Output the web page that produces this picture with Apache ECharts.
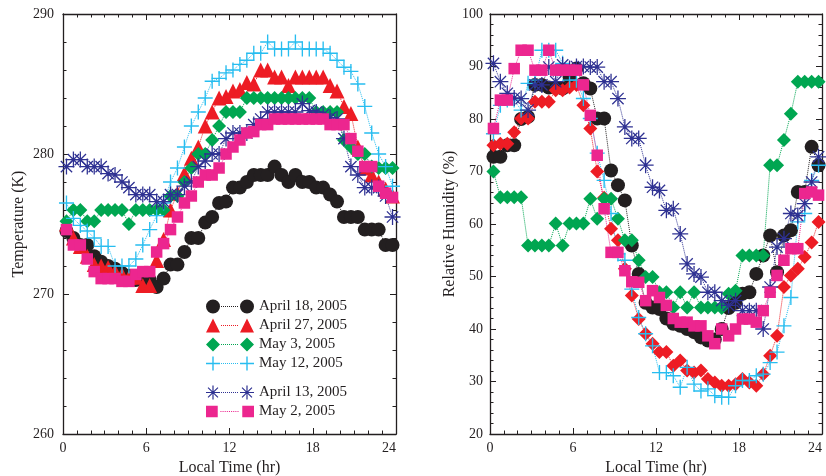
<!DOCTYPE html>
<html><head><meta charset="utf-8">
<script src="https://cdn.jsdelivr.net/npm/echarts@6/dist/echarts.min.js"></script>
<style>html,body{margin:0;padding:0;background:#fff}#c{width:826px;height:476px}</style>
</head><body><div id="c"></div>
<script>
// ---- data ----
const hours = [0.25,0.75,1.25,1.75,2.25,2.75,3.25,3.75,4.25,4.75,5.25,5.75,6.25,6.75,7.25,7.75,8.25,8.75,9.25,9.75,10.25,10.75,11.25,11.75,12.25,12.75,13.25,13.75,14.25,14.75,15.25,15.75,16.25,16.75,17.25,17.75,18.25,18.75,19.25,19.75,20.25,20.75,21.25,21.75,22.25,22.75,23.25,23.75];
const seriesNames = ['April 18, 2005','April 27, 2005','May 3, 2005','May 12, 2005','April 13, 2005','May 2, 2005'];
const xTickValues = [0,6,12,18,24];
const tempTicks = [260,270,280,290];
const rhTicks = [20,30,40,50,60,70,80,90,100];

const tApr18 = [274.5,274,273.5,273.5,272.7,272.3,272,271.8,271.5,271.3,271,271,271,270.5,271.1,272.1,272.1,273,274,274,275.1,275.5,276.5,276.6,277.6,277.6,278,278.5,278.5,278.5,279.1,278.5,278,278.5,278,278,277.6,277.6,277.1,276.6,275.5,275.5,275.5,274.6,274.6,274.6,273.5,273.5];
const tApr27 = [275,274,273.4,272.7,272.1,272,271.9,271.6,271.4,271.2,271.2,270.6,270.6,272.4,273.9,276,277.2,278.6,279.7,280.5,282,283,284,284.1,284.5,284.6,285.1,285,286,286,285.5,285.5,284.9,285.5,285.5,285.5,285.5,285.5,284.9,284.5,283.4,282.9,280.5,279,278.5,278,277.5,277];
const tMay3 = [275.2,276,276,275.2,275.2,276,276,276,276,275,276,276,276,276,276,277,277,278,279,280,280,281,282,283,283,283,284,284,284,284,284,284,284,284,284,284,283,283,283,283,281,280.5,280,280,279.1,279,279,279];
const tMay12 = [276.5,275.4,274.9,274.5,274,273.4,273.4,272,272,272,272.5,273.5,274.6,275.6,276.5,278,279,280.5,282,283,284,285.2,285.4,285.8,286,286.4,286.7,287.2,287.2,288,287.5,287.5,287.5,288,287.5,287.5,287.5,287.5,287.2,286.7,286.2,285.9,285,283.4,281.5,280,279.1,277.7];
const tApr13 = [279.1,279.6,279.6,279.1,279.1,279.1,278.6,278.5,278,277.6,277.1,277.1,277.1,276.6,276.6,277.1,277.1,277.7,278,279.1,279.5,280,280,281.1,281.5,281.5,281.5,282.1,282.5,283,283,283,283,283,283.6,283.1,283,282.8,282.6,282.5,281.1,279.1,278.5,277.6,277.6,277.6,277,275.5];
const tMay2 = [274.6,273.5,273.5,272.5,271.6,271.1,271.1,271.1,270.9,270.9,271.4,271.6,271.6,273,273.6,274.6,275.5,276.5,277,278,278.5,278.5,279,280,280.5,281,281.5,281.6,282.1,282.1,282.5,282.5,282.5,282.5,282.5,282.5,282.5,282.5,282.1,282.1,282.1,281.1,280.2,279.1,279.1,277.7,277.2,276.9];

const rhApr18 = [72.8,72.8,75,75,80,80.4,86.5,86.5,86,86,85.8,88,89.6,86.8,85.8,80.1,80.1,70.2,67.4,64.5,55.9,50.5,45,44.1,43.8,42,41,40.6,40,39.4,38.4,37.8,38,40,44,45,46.7,47,50.5,54,57.8,50.8,57.8,58.8,66.1,66.1,74.7,71.2];
const rhApr27 = [75,75.3,75.3,77.5,80.1,80.1,83.3,83.3,83.3,85.5,85.5,86,86.5,82.6,78.2,70,65,59.1,56.9,51.5,46.4,41.9,39.1,37.2,35.6,35.6,33,34,32.1,31.7,32.1,30.5,29.8,29.2,29.2,29.5,30.5,29.8,29.2,31.4,34.9,38.7,48,50.2,51.5,53.7,56.5,60.4];
const rhMay3 = [70,65.1,65.1,65.1,65.1,55.9,55.9,55.9,55.9,60.1,55.9,60.1,60.1,60.1,64.8,61,64.8,64.8,61,56.9,56.9,53.1,49.9,49.9,47,47,44.1,47,44.1,47,44.1,44.1,44.1,44,46.7,47.3,54,54,54,54,71.2,71.2,76,81,87.1,87.1,87.1,87.1];
const rhMay12 = [77.2,82.6,83.6,83.6,81.7,86.8,87.4,93.1,93.1,93.1,90.6,87.4,87.4,83.9,80.1,73.5,68.3,62,54.3,53.1,47.6,42.2,39.1,36.8,31.7,31.7,31.1,28.9,32.7,29.5,28.2,28.6,27.3,27,27,29.2,30.2,30.2,31.1,31.4,33.6,35.6,40.6,46,60.4,62,68.3,71.2];
const rhApr13 = [90.6,87.1,84.9,84,83.9,81.7,86.5,86.5,89.9,87.1,90.3,89.6,90,90,89.9,89.9,87.1,87.1,83.9,78.5,76.3,76.3,71.2,67,66.4,62.6,62.9,58.1,52.4,50.5,49.9,47,47,45.4,44.5,45.4,43.5,43.5,43.5,40,48,55.6,57.2,62,61.6,63.9,68,72.8];
const rhMay2 = [78.2,83.6,83.6,89.6,93.1,93.1,89.3,89.3,93.1,89.3,89.3,89.3,89.3,86.5,80.7,73.1,62.9,54.6,54.6,51.1,49,48.9,45.4,47.3,46,44.5,42,41.3,41.3,40.6,40.6,38.7,37.2,40,38.7,40,41.9,41.9,41.3,43.5,47,50.2,53.1,55.3,55.3,65.8,66.1,65.5];

// ---- styling ----
const INK = '#231f20';
const FONT = 'Liberation Serif';
const colors = ['#231f20','#ed1c24','#00a651','#27bdf0','#2e3192','#ec268f'];

function starPath(){
  const c=10,r=10,w=0.8; let d='';
  [0,45,90,135].forEach(a=>{
    const t=a*Math.PI/180, ct=Math.cos(t), st=Math.sin(t);
    const pts=[[-r,-w],[r,-w],[r,w],[-r,w]].map(([x,y])=>[c+x*ct-y*st, c+x*st+y*ct]);
    d+='M'+pts.map(p=>p[0].toFixed(2)+','+p[1].toFixed(2)).join('L')+'Z';
  });
  d+='M7.6,10a2.4,2.4 0 1,1 4.8,0a2.4,2.4 0 1,1 -4.8,0Z';
  return d;
}
const plusD = 'M9.1,0h1.8v20h-1.8zM0,9.1h20v1.8h-20z';
const SYM = {
  circle:'circle', triangle:'triangle', diamond:'diamond', rect:'rect',
  plus:'path://'+plusD, star:'path://'+starPath()
};

// legend icons: marker - dotted line - marker, in a 48 x 14 box
function markerPath(kind, ox){
  switch(kind){
    case 'circle': return `M${ox},7a7,7 0 1,0 14,0a7,7 0 1,0 -14,0Z`;
    case 'triangle': return `M${ox},14L${ox+7},0L${ox+14},14Z`;
    case 'diamond': return `M${ox+7},0L${ox+14},7L${ox+7},14L${ox},7Z`;
    case 'rect': return `M${ox+1.5},1.5h11v11h-11Z`;
    case 'plus': return `M${ox+6.3},0h1.4v14h-1.4zM${ox},6.3h14v1.4h-14z`;
    case 'star': {
      let d=''; [0,45,90,135].forEach(a=>{const t=a*Math.PI/180,ct=Math.cos(t),st=Math.sin(t);
        const pts=[[-7,-0.6],[7,-0.6],[7,0.6],[-7,0.6]].map(([x,y])=>[ox+7+x*ct-y*st,7+x*st+y*ct]);
        d+='M'+pts.map(p=>p[0].toFixed(2)+','+p[1].toFixed(2)).join('L')+'Z';});
      d+=`M${ox+5.3},7a1.7,1.7 0 1,1 3.4,0a1.7,1.7 0 1,1 -3.4,0Z`; return d;
    }
  }
}
function legendIcon(kind){
  let d = markerPath(kind,0)+markerPath(kind,34);
  for(let x=15;x<33;x+=2) d+=`M${x},6.5h1v1h-1Z`;
  return 'path://'+d;
}

const leftKinds = ['circle','triangle','diamond','plus','star','rect'];
const rightKinds = ['circle','diamond','diamond','plus','star','rect'];
const symSize = {circle:14, triangle:15, diamond:14, rect:11.5, plus:15, star:16};

function mkSeries(name, vals, kind, color, gi){
  return {
    type:'line', name, xAxisIndex:gi*2, yAxisIndex:gi*2,
    data: hours.map((h,i)=>[h, vals[i]]),
    symbol: SYM[kind], symbolSize: symSize[kind], showSymbol:true, showAllSymbol:true,
    symbolKeepAspect:true,
    lineStyle:{type:'dotted', width:1, color},
    itemStyle:{color, opacity:1},
    emphasis:{disabled:true}, animation:false, z: 2
  };
}

function xAxes(gi){
  const base = {type:'value', gridIndex:gi, min:0, max:24, interval:6,
    axisLine:{show:true, onZero:false, lineStyle:{color:INK, width:1.3}},
    axisTick:{show:true, inside:true, length:6, lineStyle:{color:INK, width:1}},
    minorTick:{show:true, splitNumber:6, length:3.5, lineStyle:{color:INK, width:1}},
    splitLine:{show:false}, minorSplitLine:{show:false}};
  return [
    Object.assign({}, base, {position:'bottom', name:'Local Time (hr)', nameLocation:'middle', nameGap:24,
      nameTextStyle:{fontFamily:FONT, fontSize:16, color:INK},
      axisLabel:{show:true, fontFamily:FONT, fontSize:14, color:INK, margin:7, alignMaxLabel:'right'}}),
    Object.assign({}, base, {position:'top', axisLabel:{show:false}})
  ];
}
function yAxes(gi, min, max, name, gap, margin){
  const base = {type:'value', gridIndex:gi, min, max, interval:10,
    axisLine:{show:true, onZero:false, lineStyle:{color:INK, width:1.3}},
    axisTick:{show:true, inside:true, length:6, lineStyle:{color:INK, width:1}},
    minorTick:{show:true, splitNumber:5, length:3.5, lineStyle:{color:INK, width:1}},
    splitLine:{show:false}, minorSplitLine:{show:false}};
  return [
    Object.assign({}, base, {position:'left', name, nameLocation:'middle', nameGap:gap,
      nameTextStyle:{fontFamily:FONT, fontSize:16, color:INK},
      axisLabel:{show:true, fontFamily:FONT, fontSize:14, color:INK, margin}}),
    Object.assign({}, base, {position:'right', axisLabel:{show:false}})
  ];
}

const leftVals = [tApr18,tApr27,tMay3,tMay12,tApr13,tMay2];
const rightVals = [rhApr18,rhApr27,rhMay3,rhMay12,rhApr13,rhMay2];
const series = [];
seriesNames.forEach((n,i)=>series.push(mkSeries(n, leftVals[i], leftKinds[i], colors[i], 0)));
seriesNames.forEach((n,i)=>series.push(mkSeries(n+' ', rightVals[i], rightKinds[i], colors[i], 1)));

const legendText = {fontFamily:FONT, fontSize:15, color:INK, lineHeight:15};
const option = {
  backgroundColor:'#fff', animation:false,
  grid:[{left:63, top:14, width:333, height:420, outerBoundsMode:'none'},
        {left:490, top:14, width:332, height:420, outerBoundsMode:'none'}],
  xAxis:[...xAxes(0), ...xAxes(1)],
  yAxis:[...yAxes(0,260,290,'Temperature (K)',36,9), ...yAxes(1,20,100,'Relative Humidity (%)',32,7)],
  legend:[
    {orient:'vertical', left:206, top:299, padding:0, itemWidth:48, itemHeight:14, itemGap:4, textStyle:legendText,
     selectedMode:false, data: seriesNames.slice(0,4).map((n,i)=>({name:n, icon:legendIcon(leftKinds[i])}))},
    {orient:'vertical', left:206, top:385, padding:0, itemWidth:48, itemHeight:14, itemGap:4, textStyle:legendText,
     selectedMode:false, data: seriesNames.slice(4).map((n,i)=>({name:n, icon:legendIcon(leftKinds[i+4])}))}
  ],
  series
};
const chart = echarts.init(document.getElementById('c'), null, {renderer:'canvas'});
chart.setOption(option);
</script>
</body></html>
